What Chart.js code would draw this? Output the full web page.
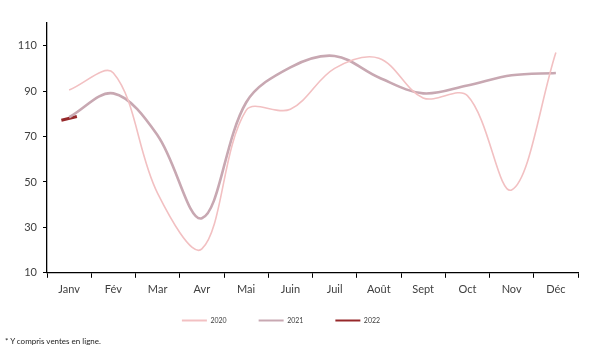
<!DOCTYPE html>
<html>
<head>
<meta charset="utf-8">
<script src="https://cdn.jsdelivr.net/npm/chart.js@4/dist/chart.umd.min.js"></script>
<style>
  body { margin: 0; background: #fff; overflow: hidden; }
  #wrap { position: relative; width: 614px; height: 360px; }
  #note { position: absolute; left: 5px; top: 336px; font: 8px Lato, sans-serif; color: #222; }
</style>
</head>
<body>
<div id="wrap">
  <canvas id="salesChart" width="614" height="360"></canvas>
  <div id="note">* Y compris ventes en ligne.</div>
</div>
<script>
const months = ['Janv', 'Fév', 'Mar', 'Avr', 'Mai', 'Juin', 'Juil', 'Août', 'Sept', 'Oct', 'Nov', 'Déc'];
const values2020 = [90.5, 98, 45, 20.5, 81.5, 82, 100, 104.5, 87, 88, 46.5, 107];
const values2021 = [78.5, 89, 70.5, 34, 85, 100.5, 105.5, 96, 89, 92.5, 97, 98];
const values2022 = [78];
const yTicks = [10, 30, 50, 70, 90, 110];

const textColor = '#404040';

// legend sits closer to the axis labels than Chart.js would put it
const legendShift = {
  id: 'legendShift',
  afterLayout(chart) {
    const legend = chart.legend;
    legend.top -= 16;
    legend.bottom -= 16;
    legend.left -= 8;
    legend.right -= 8;
  },
};

const data = {
  labels: months,
  datasets: [
    {
      label: '2020',
      data: values2020,
      borderColor: 'rgb(242, 192, 194)',
      backgroundColor: 'rgb(242, 192, 194)',
      borderWidth: 1.6,
      pointRadius: 0,
      tension: 0.35,
    },
    {
      label: '2021',
      data: values2021,
      borderColor: 'rgb(200, 168, 178)',
      backgroundColor: 'rgb(200, 168, 178)',
      borderWidth: 2.6,
      pointRadius: 0,
      tension: 0.35,
    },
    {
      label: '2022',
      data: values2022,
      borderColor: 'rgb(150, 40, 42)',
      backgroundColor: 'rgb(150, 40, 42)',
      borderWidth: 3,
      pointStyle: 'line',
      pointRadius: 8,
      pointRotation: -14,
      tension: 0.35,
    },
  ],
};

const config = {
  type: 'line',
  data: data,
  options: {
    responsive: false,
    animation: false,
    layout: {
      padding: { top: 23, right: 36, bottom: 10, left: 0 },
    },
    plugins: {
      legend: {
        position: 'bottom',
        labels: {
          boxWidth: 25,
          boxHeight: 2,
          padding: 32,
          color: textColor,
          font: { family: 'Lato', size: 7 },
          generateLabels: chart =>
            chart.data.datasets.map((ds, i) => ({
              text: ds.label,
              fillStyle: ds.borderColor,
              strokeStyle: ds.borderColor,
              lineWidth: 0,
              fontColor: textColor,
              datasetIndex: i,
              hidden: false,
            })),
        },
      },
      tooltip: { enabled: false },
    },
    scales: {
      x: {
        offset: true,
        grid: {
          offset: true,
          drawOnChartArea: false,
          drawTicks: true,
          tickLength: 5,
          color: '#000',
        },
        border: { color: '#000', width: 1.3 },
        ticks: {
          color: textColor,
          padding: 5,
          font: { family: 'Lato', size: 11 },
          maxRotation: 0,
        },
      },
      y: {
        min: 10,
        max: 120,
        afterBuildTicks: scale => {
          scale.ticks = yTicks.map(v => ({ value: v }));
        },
        grid: {
          drawOnChartArea: false,
          tickLength: 4,
          color: '#000',
        },
        border: { color: '#000', width: 1.3 },
        ticks: {
          color: textColor,
          padding: 6,
          font: { family: 'Lato', size: 11 },
        },
        afterFit: scale => {
          scale.width = 47;
        },
      },
    },
  },
  plugins: [legendShift],
};

const salesChart = new Chart(document.getElementById('salesChart'), config);
</script>
</body>
</html>
